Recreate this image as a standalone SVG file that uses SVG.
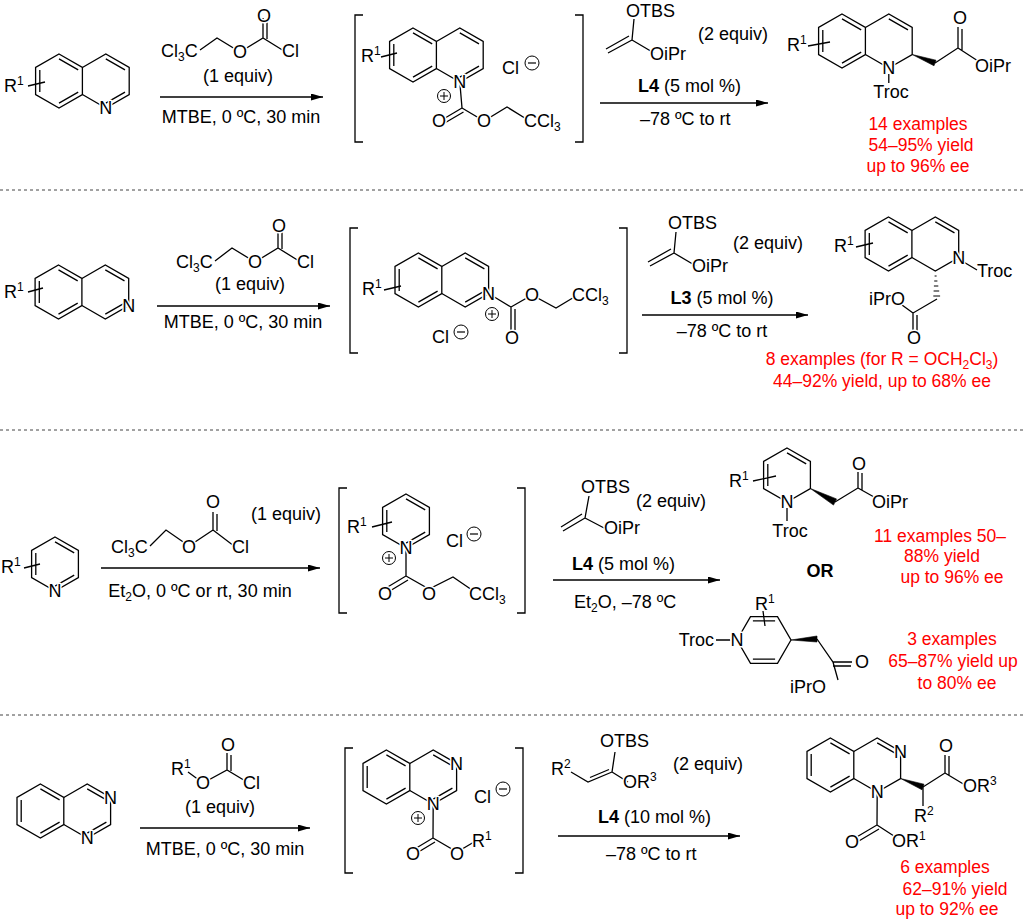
<svg xmlns="http://www.w3.org/2000/svg" xmlns:xlink="http://www.w3.org/1999/xlink" width="1024" height="924" viewBox="0 0 1024 924">
<style>
text{font-family:"Liberation Sans",Arial,sans-serif;font-size:18px;fill:#000}
.a{stroke:#fff;stroke-width:3;paint-order:stroke fill;stroke-linejoin:round}
.m{text-anchor:middle}
.r{fill:#f00;font-size:17.5px;text-anchor:middle;stroke:none}
.b{stroke:#000;stroke-width:1.3;fill:none}
.w{fill:#000;stroke:#000;stroke-width:0.6}
.ar{stroke:#000;stroke-width:1.3;fill:none;marker-end:url(#ah)}
.d{stroke:#444;stroke-width:1;stroke-dasharray:3,3}
.s{font-size:12px}
.bk{stroke:#000;stroke-width:1.3;fill:none}
.o{fill:#fff;stroke:none}
</style>
<defs>
<marker id="ah" markerUnits="userSpaceOnUse" markerWidth="12" markerHeight="7" refX="12" refY="3.5" orient="auto"><path d="M0,0 L12,3.5 L0,7 z" fill="#000"/></marker>
<g id="benz" class="b"><polygon points="0,-27 23.4,-13.5 23.4,13.5 0,27 -23.4,13.5 -23.4,-13.5"/><path d="M0,-22.1 L19.2,-11.1 M19.2,11.1 L0,22.1 M-19.2,-11.1 L-19.2,11.1"/></g>
<g id="plus"><circle r="6.5" fill="none" stroke="#000" stroke-width="1"/><path d="M-4,0 H4 M0,-4 V4" stroke="#000" stroke-width="1"/></g>
<g id="minus"><circle r="7" fill="none" stroke="#000" stroke-width="1"/><path d="M-4,0 H4" stroke="#000" stroke-width="1.2"/></g>
</defs>

<g id="separators">
<line class="d" x1="0" y1="190" x2="1024" y2="190"/>
<line class="d" x1="0" y1="430" x2="1024" y2="430"/>
<line class="d" x1="0" y1="715" x2="1024" y2="715"/>
</g>

<g id="connectors">
<line class="ar" x1="160" y1="97" x2="323" y2="97"/>
<line class="ar" x1="600" y1="103" x2="768" y2="103"/>
<line class="ar" x1="157" y1="306" x2="330" y2="306"/>
<line class="ar" x1="642" y1="315" x2="808" y2="315"/>
<line class="ar" x1="101" y1="568" x2="320" y2="568"/>
<line class="ar" x1="553" y1="580" x2="720" y2="580"/>
<line class="ar" x1="140" y1="828" x2="310" y2="828"/>
<line class="ar" x1="558" y1="836" x2="740" y2="836"/>
</g>

<!-- ROW 1 -->
<g id="quinoline">
<use xlink:href="#benz" x="59" y="81"/>
<polyline class="b" points="82.4,67.5 105.8,54 129.2,67.5 129.2,94.5 105.8,108 82.4,94.5"/>
<path class="b" d="M105.8,58.9 L125,69.9 M125,92.1 L105.8,103.1 M28,86 L45,82"/>
<text class="a m" x="105.8" y="114">N</text>
<text x="4" y="92">R<tspan class="s" dy="-7">1</tspan></text>
</g>
<g id="reagent1">
<path class="b" d="M200,50 L217,38 L240,52 L263,38 L284,51 M263,38 V18 M267,39 V20"/>
<circle class="o" cx="240" cy="51.5" r="7.5"/>
<text class="a" x="161" y="57">Cl<tspan class="s" dy="4">3</tspan><tspan dy="-4">C</tspan></text>
<text class="a m" x="240" y="58">O</text>
<text class="a m" x="264" y="22">O</text>
<text class="a" x="282" y="57">Cl</text>
<text class="m" x="238" y="82">(1 equiv)</text>
<text class="m" x="241" y="123">MTBE, 0 ºC, 30 min</text>
</g>
<g id="quinolinium">
<path class="bk" d="M363,15 H355 V142 H363 M575,15 H583 V142 H575"/>
<use xlink:href="#benz" x="413" y="55"/>
<polyline class="b" points="436.4,41.5 459.8,28 483.2,41.5 483.2,68.5 459.8,82 436.4,68.5"/>
<path class="b" d="M459.8,32.9 L479,43.9 M479,66.1 L459.8,77.1 M381,57 L397,53 M459.8,82 L462,108 L440,121 M463.5,112 L443,124 M462,108 L484,121 L507,107 L528,120"/>
<circle class="o" cx="439" cy="120.5" r="7.5"/><circle class="o" cx="484" cy="120.5" r="7.5"/>
<text class="a m" x="459.8" y="88">N</text>
<use xlink:href="#plus" x="444" y="96"/>
<text x="361" y="62">R<tspan class="s" dy="-7">1</tspan></text>
<text x="502" y="74">Cl</text><use xlink:href="#minus" x="532" y="63"/>
<text class="a m" x="439" y="127">O</text>
<text class="a m" x="484" y="127">O</text>
<text class="a" x="524" y="127">CCl<tspan class="s" dy="4">3</tspan></text>
</g>
<g id="cond1">
<path class="b" d="M632,40 L634,19 M632,40 L608,53 M629,36 L606,49 M632,40 L654,53"/>
<text class="a" x="626" y="17">OTBS</text>
<text class="a" x="650" y="60">OiPr</text>
<text x="698" y="40">(2 equiv)</text>
<text x="638" y="92"><tspan font-weight="bold">L4</tspan> (5 mol %)</text>
<text x="640" y="125">–78 ºC to rt</text>
</g>
<g id="product1">
<use xlink:href="#benz" x="842" y="41"/>
<polyline class="b" points="865.4,27.5 888.8,14 912.2,27.5 912.2,54.5 888.8,68 865.4,54.5"/>
<path class="b" d="M888.8,18.9 L908,29.9 M808,46 L830,42 M888.8,74 V83 M935,63 L958,48 L958,27 M962,50 V29 M958,48 L978,61"/>
<polygon class="w" points="912.2,54.5 936,60.2 934,65.8"/>
<text class="a m" x="888.8" y="74">N</text>
<text x="787" y="51">R<tspan class="s" dy="-7">1</tspan></text>
<text class="a m" x="891" y="98">Troc</text>
<text class="a m" x="960" y="24">O</text>
<text class="a" x="975" y="72">OiPr</text>
<text class="r" x="918" y="130">14 examples</text>
<text class="r" x="921" y="151">54–95% yield</text>
<text class="r" x="918" y="172">up to 96% ee</text>
</g>

<!-- ROW 2 -->
<g id="isoquinoline">
<use xlink:href="#benz" x="58.5" y="292"/>
<polyline class="b" points="81.9,278.5 105.3,265 128.7,278.5 128.7,305.5 105.3,319 81.9,305.5"/>
<path class="b" d="M105.3,269.9 L124.5,280.9 M124.5,303.1 L105.3,314.1 M28,292 L43,288"/>
<text class="a m" x="128.7" y="311.5">N</text>
<text x="4" y="298">R<tspan class="s" dy="-7">1</tspan></text>
</g>
<g id="reagent2">
<path class="b" d="M215,261 L232,248 L255,262 L278,248 L299,261 M278,248 V230 M282,249 V232"/>
<circle class="o" cx="255" cy="261.5" r="7.5"/>
<text class="a" x="176" y="268">Cl<tspan class="s" dy="4">3</tspan><tspan dy="-4">C</tspan></text>
<text class="a m" x="255" y="268">O</text>
<text class="a m" x="279" y="232">O</text>
<text class="a" x="297" y="268">Cl</text>
<text class="m" x="250" y="290">(1 equiv)</text>
<text class="m" x="243" y="328">MTBE, 0 ºC, 30 min</text>
</g>
<g id="isoquinolinium">
<path class="bk" d="M358,228 H350 V353 H358 M619,228 H627 V353 H619"/>
<use xlink:href="#benz" x="418.4" y="280"/>
<polyline class="b" points="441.8,266.5 465.2,253 488.6,266.5 488.6,293.5 465.2,307 441.8,293.5"/>
<path class="b" d="M465.2,257.9 L484.4,268.9 M484.4,291.1 L465.2,302.1 M384,290 L401,286 M488.6,293.5 L511,307 V330 M515,309 V330 M511,307 L532,295 L556,308 L576,296"/>
<circle class="o" cx="532" cy="294.5" r="7.5"/>
<text class="a m" x="488.6" y="299.5">N</text>
<use xlink:href="#plus" x="492" y="314"/>
<text x="362" y="295">R<tspan class="s" dy="-7">1</tspan></text>
<text x="432" y="343">Cl</text><use xlink:href="#minus" x="461" y="332"/>
<text class="a m" x="512" y="344">O</text>
<text class="a m" x="532" y="301">O</text>
<text class="a" x="572" y="301">CCl<tspan class="s" dy="4">3</tspan></text>
</g>
<g id="cond2">
<path class="b" d="M674,253 L676,232 M674,253 L650,266 M671,249 L648,262 M674,253 L696,266"/>
<text class="a" x="668" y="229">OTBS</text>
<text class="a" x="692" y="272">OiPr</text>
<text x="733" y="249">(2 equiv)</text>
<text class="m" x="722" y="304"><tspan font-weight="bold">L3</tspan> (5 mol %)</text>
<text class="m" x="722" y="337">–78 ºC to rt</text>
</g>
<g id="product2">
<use xlink:href="#benz" x="888.5" y="244"/>
<polyline class="b" points="911.9,230.5 935.3,217 958.7,230.5 958.7,257.5 935.3,271 911.9,257.5"/>
<path class="b" d="M935.3,221.9 L954.5,232.9 M856,247 L873,243 M962,261 L977,270 M937,299 L913,313 V331 M917,315 V331 M913,313 L902,305"/>
<path stroke="#000" stroke-width="1.2" d="M934.6,276 h2 M934.2,281 h3.2 M933.9,286 h4.4 M933.6,291 h5.6 M933.3,296 h6.8"/>
<text class="a m" x="958.7" y="263.5">N</text>
<text x="834" y="252">R<tspan class="s" dy="-7">1</tspan></text>
<text class="a" x="977" y="277">Troc</text>
<text class="a" x="905" y="305" text-anchor="end">iPrO</text>
<text class="a m" x="914" y="344">O</text>
<text class="r" x="882" y="365">8 examples (for R = OCH<tspan class="s" dy="4">2</tspan><tspan dy="-4">Cl</tspan><tspan class="s" dy="4">3</tspan><tspan dy="-4">)</tspan></text>
<text class="r" x="882" y="387">44–92% yield, up to 68% ee</text>
</g>

<!-- ROW 3 -->
<g id="pyridine">
<polygon class="b" points="55,537 78.4,550.5 78.4,577.5 55,591 31.6,577.5 31.6,550.5"/>
<path class="b" d="M55,541.9 L74.2,552.9 M74.2,575.1 L55,586.1 M35.8,552.9 L35.8,575.1 M24,568 L40,564"/>
<text class="a m" x="55" y="597">N</text>
<text x="1" y="573">R<tspan class="s" dy="-7">1</tspan></text>
</g>
<g id="reagent3">
<path class="b" d="M150,546 L166,530 L189,546 L213,530 L234,546 M213,530 V512 M217,531 V514"/>
<circle class="o" cx="189" cy="546.5" r="7.5"/>
<text class="a" x="111" y="553">Cl<tspan class="s" dy="4">3</tspan><tspan dy="-4">C</tspan></text>
<text class="a m" x="189" y="553">O</text>
<text class="a m" x="213" y="508">O</text>
<text class="a" x="232" y="553">Cl</text>
<text x="251" y="520">(1 equiv)</text>
<text class="m" x="200" y="597">Et<tspan class="s" dy="4">2</tspan><tspan dy="-4">O, 0 ºC or rt, 30 min</tspan></text>
</g>
<g id="pyridinium">
<path class="bk" d="M347,488 H339 V613 H347 M517,488 H525 V613 H517"/>
<polygon class="b" points="406,494 429.4,507.5 429.4,534.5 406,548 382.6,534.5 382.6,507.5"/>
<path class="b" d="M406,498.9 L425.2,509.9 M425.2,532.1 L406,543.1 M386.8,509.9 L386.8,532.1 M372,527 L392,522 M406,548 L406,576 L386,588 M408,580 L389,591.5 M406,576 L429,589 L453,577 L472,590"/>
<circle class="o" cx="385" cy="593.5" r="7.5"/><circle class="o" cx="429" cy="593.5" r="7.5"/>
<text class="a m" x="406" y="554">N</text>
<use xlink:href="#plus" x="389" y="558"/>
<text x="347" y="533">R<tspan class="s" dy="-7">1</tspan></text>
<text x="446" y="547">Cl</text><use xlink:href="#minus" x="474" y="534"/>
<text class="a m" x="385" y="600">O</text>
<text class="a m" x="429" y="600">O</text>
<text class="a" x="469" y="600">CCl<tspan class="s" dy="4">3</tspan></text>
</g>
<g id="cond3">
<path class="b" d="M585,518 L589,496 M585,518 L563,531 M582,514 L561,527 M585,518 L606,529"/>
<text class="a" x="581" y="493">OTBS</text>
<text class="a" x="604" y="534">OiPr</text>
<text x="636" y="507">(2 equiv)</text>
<text x="572" y="570"><tspan font-weight="bold">L4</tspan> (5 mol %)</text>
<text x="574" y="608">Et<tspan class="s" dy="4">2</tspan><tspan dy="-4">O, –78 ºC</tspan></text>
</g>
<g id="product3a">
<polygon class="b" points="787,448 810.4,461.5 810.4,488.5 787,502 763.6,488.5 763.6,461.5"/>
<path class="b" d="M787,452.9 L806.2,463.9 M767.8,463.9 L767.8,486.1 M753,481 L776,476 M787,508 V521 M835,502 L858,488 V472 M862,490 V473 M858,488 L874,497"/>
<polygon class="w" points="810.4,488.5 836.5,498.9 833.5,505.1"/>
<text class="a m" x="787" y="508">N</text>
<text x="729" y="487">R<tspan class="s" dy="-7">1</tspan></text>
<text class="a m" x="790" y="537">Troc</text>
<text class="a m" x="859" y="470">O</text>
<text class="a" x="872" y="508">OiPr</text>
<text class="m" x="820" y="577" font-weight="bold">OR</text>
<text class="r" x="940" y="542">11 examples 50–</text>
<text class="r" x="942" y="562">88% yield</text>
<text class="r" x="952" y="583">up to 96% ee</text>
</g>
<g id="product3b">
<polygon class="b" points="791,640 777.5,663.4 750.5,663.4 737,640 750.5,616.6 777.5,616.6"/>
<path class="b" d="M752.9,620.8 L775.1,620.8 M752.9,659.2 L775.1,659.2 M763,611 L765,626 M716,640 H731 M817,639 L833,662 L852,662 M833,666 L851,666 M833,662 L838,680"/>
<polygon class="w" points="791,640 817,636 817,642"/>
<circle class="o" cx="737" cy="639.5" r="7"/>
<text class="a m" x="737" y="646">N</text>
<text class="a" x="714" y="646" text-anchor="end">Troc</text>
<text x="755" y="610">R<tspan class="s" dy="-7">1</tspan></text>
<text class="a m" x="862" y="668">O</text>
<text class="a" x="790" y="693">iPrO</text>
<text class="r" x="952" y="645">3 examples</text>
<text class="r" x="953" y="667">65–87% yield up</text>
<text class="r" x="957" y="689">to 80% ee</text>
</g>

<!-- ROW 4 -->
<g id="quinazoline">
<use xlink:href="#benz" x="40.4" y="811"/>
<polyline class="b" points="63.8,797.5 87.2,784 110.6,797.5 110.6,824.5 87.2,838 63.8,824.5"/>
<path class="b" d="M87.2,788.9 L106.4,799.9 M106.4,822.1 L87.2,833.1"/>
<text class="a m" x="110.6" y="803.5">N</text>
<text class="a m" x="87.2" y="844">N</text>
</g>
<g id="reagent4">
<path class="b" d="M188,772 L203,783 L227,770 L247,782 M227,770 V753 M231,771 V755"/>
<circle class="o" cx="203" cy="782.5" r="7.5"/>
<text class="a" x="171" y="775">R<tspan class="s" dy="-7">1</tspan></text>
<text class="a m" x="203" y="789">O</text>
<text class="a m" x="228" y="751">O</text>
<text class="a" x="243" y="789">Cl</text>
<text class="m" x="220" y="813">(1 equiv)</text>
<text class="m" x="225" y="855">MTBE, 0 ºC, 30 min</text>
</g>
<g id="quinazolinium">
<path class="bk" d="M353,748 H345 V873 H353 M515,748 H523 V873 H515"/>
<use xlink:href="#benz" x="386.4" y="777"/>
<polyline class="b" points="409.8,763.5 433.2,750 456.6,763.5 456.6,790.5 433.2,804 409.8,790.5"/>
<path class="b" d="M433.2,754.9 L452.4,765.9 M452.4,788.1 L433.2,799.1 M433.2,804 L433,838 L413,850 M435,842 L416,853.5 M433,838 L457,852 L474,842"/>
<circle class="o" cx="413" cy="853.5" r="7.5"/><circle class="o" cx="457" cy="853.5" r="7.5"/>
<text class="a m" x="456.6" y="769.5">N</text>
<text class="a m" x="433.2" y="810">N</text>
<use xlink:href="#plus" x="418" y="818"/>
<text x="474" y="803">Cl</text><use xlink:href="#minus" x="503" y="789"/>
<text class="a m" x="413" y="860">O</text>
<text class="a m" x="457" y="860">O</text>
<text class="a" x="472" y="847">R<tspan class="s" dy="-7">1</tspan></text>
</g>
<g id="cond4">
<path class="b" d="M571,772 L588,782 L612,772 M590,777.5 L609,769.5 M612,772 L615,752 M612,772 L628,782"/>
<text class="a" x="551" y="775">R<tspan class="s" dy="-7">2</tspan></text>
<text class="a" x="600" y="747">OTBS</text>
<text class="a" x="623" y="788">OR<tspan class="s" dy="-7">3</tspan></text>
<text x="673" y="770">(2 equiv)</text>
<text x="598" y="823"><tspan font-weight="bold">L4</tspan> (10 mol %)</text>
<text x="606" y="860">–78 ºC to rt</text>
</g>
<g id="product4">
<use xlink:href="#benz" x="830.4" y="765"/>
<polyline class="b" points="853.8,751.5 877.2,738 900.6,751.5 900.6,778.5 877.2,792 853.8,778.5"/>
<path class="b" d="M877.2,742.9 L896.4,753.9 M923,787 L945,773 V755 M949,775 V756 M945,773 L965,785 M923,787 V806 M877.2,792 L877,825 L855,838 M879,829 L858,841.5 M877,825 L897,838"/>
<polygon class="w" points="900.6,778.5 924,784.2 922,789.8"/>
<circle class="o" cx="852" cy="841.5" r="7.5"/>
<text class="a m" x="900.6" y="757.5">N</text>
<text class="a m" x="877.2" y="798">N</text>
<text class="a m" x="946" y="752">O</text>
<text class="a" x="963" y="792">OR<tspan class="s" dy="-7">3</tspan></text>
<text class="a" x="914" y="822">R<tspan class="s" dy="-7">2</tspan></text>
<text class="a m" x="852" y="848">O</text>
<text class="a" x="892" y="847">OR<tspan class="s" dy="-7">1</tspan></text>
<text class="r" x="945" y="873">6 examples</text>
<text class="r" x="955" y="895">62–91% yield</text>
<text class="r" x="947" y="915">up to 92% ee</text>
</g>
</svg>
